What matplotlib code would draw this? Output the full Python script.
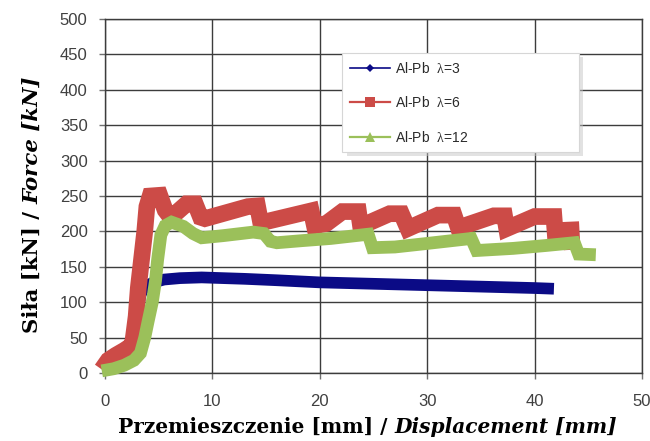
import matplotlib
matplotlib.use("Agg")
import matplotlib.pyplot as plt
from matplotlib.lines import Line2D

# ---- data ----
blue_x = [0, 0.5, 1, 1.5, 2, 2.5, 3, 3.3, 3.6, 4.0, 4.5, 5.5, 7, 9, 11, 13, 16, 20, 25, 30, 35, 40, 41.8]
blue_y = [2, 10, 18, 25, 32, 45, 85, 110, 120, 124, 128, 132, 134, 135, 134, 133, 131, 128, 126, 124, 122, 120, 119]

red_x = [-0.3, 0.3, 1.0, 1.8, 2.4, 2.6, 2.9, 3.1, 3.4, 3.7, 3.9, 4.2, 5.1, 5.6, 6.0, 6.4, 7.6, 8.4, 8.9, 9.3,
         13.3, 14.2, 14.5, 19.2, 19.5, 20.6, 22.1, 23.6, 23.8, 26.5, 27.6, 28.2, 31.0, 32.5, 32.9,
         36.2, 37.2, 37.4, 40.0, 41.8, 41.9, 43.4, 43.5]
red_y = [5, 18, 25, 32, 38, 45, 80, 120, 160, 200, 235, 250, 251, 230, 222, 223, 239, 239, 220, 218,
         235, 236, 212, 229, 208, 211, 228, 228, 207, 225, 225, 204, 223, 223, 205,
         222, 222, 204, 221, 221, 201, 202, 174]

green_x = [-0.3, 0.8, 1.8, 2.7, 3.3, 3.7, 4.0, 4.4, 4.7, 4.9, 5.2, 5.6, 6.2, 7.3, 8.2, 9.0, 11.0, 13.8,
           14.8, 15.4, 16.0, 18.4, 21.0, 24.5, 24.9, 27.0, 30.0, 34.1, 34.6, 38.0, 41.0, 43.7, 44.1, 45.7]
green_y = [3, 6, 11, 18, 28, 50, 72, 100, 130, 160, 195, 208, 213, 207, 197, 191, 194, 199,
           197, 186, 184, 187, 190, 196, 177, 178, 183, 190, 173, 176, 180, 184, 168, 167]

labels = ["Al-Pb  $\\mathrm{\\lambda}$=3", "Al-Pb  $\\mathrm{\\lambda}$=6", "Al-Pb  $\\mathrm{\\lambda}$=12"]
x_ticks = [0, 10, 20, 30, 40, 50]
y_ticks = [0, 50, 100, 150, 200, 250, 300, 350, 400, 450, 500]
xlabel_parts = ["Przemieszczenie [mm] /", "Displacement [mm]"]
ylabel_parts = ["Siła [kN] /", "Force [kN]"]

# ---- style ----
plt.rcParams['mathtext.fontset'] = 'custom'
plt.rcParams['mathtext.rm'] = 'Liberation Serif'
plt.rcParams['mathtext.it'] = 'Liberation Serif:italic'
plt.rcParams['font.family'] = ['Liberation Sans', 'DejaVu Sans']

c_blue = '#0b0b86'
c_red = '#cc4b47'
c_green = '#9bc05a'

fig = plt.figure(figsize=(6.5, 4.41), dpi=100)
ax = fig.add_axes([105 / 650, 68 / 441, 537 / 650, 354 / 441])

common = dict(solid_joinstyle='miter', solid_capstyle='butt', clip_on=False)
ax.plot(blue_x, blue_y, color=c_blue, lw=8.4, zorder=3, **common)
ax.plot(red_x, red_y, color=c_red, lw=12.0, zorder=4, **common)
ax.plot(green_x, green_y, color=c_green, lw=9.2, zorder=5, **common)

ax.set_xlim(0, 50)
ax.set_ylim(0, 500)
ax.set_xticks(x_ticks)
ax.set_yticks(y_ticks)
ax.grid(True, color='#3c3c3c', lw=1.0)
ax.set_axisbelow(True)
for s in ax.spines.values():
    s.set_color('#3c3c3c')
    s.set_linewidth(1.0)
ax.tick_params(axis='both', direction='out', length=4, width=1, color='#707070',
               labelsize=12, labelcolor='#404040')
ax.tick_params(axis='y', pad=8.5)
ax.tick_params(axis='x', pad=11)

handles = [
    Line2D([], [], color=c_blue, lw=1.2, marker='D', ms=4.2, markeredgewidth=0),
    Line2D([], [], color=c_red, lw=1.6, marker='s', ms=6.5, markeredgewidth=0),
    Line2D([], [], color=c_green, lw=1.6, marker='^', ms=6.5, markeredgewidth=0),
]
leg = ax.legend(handles, labels, loc='upper left', mode='expand',
                bbox_to_anchor=(0.442, 0.45, 0.4405, 0.454), borderaxespad=0,
                fontsize=10, labelspacing=1.4, borderpad=0.55, handlelength=2.9,
                handletextpad=0.35, fancybox=False, framealpha=1, edgecolor='#d6d6d6',
                shadow={'ox': 3, 'oy': -3, 'facecolor': '#c6c6c6', 'edgecolor': 'none'},
                labelcolor='#2a2a2a')
leg.get_frame().set_linewidth(0.8)
leg.set_zorder(10)

# ---- axis titles with mixed bold / bold-italic parts ----
fig.canvas.draw()
renderer = fig.canvas.get_renderer()
fsx = 14.5
fsy = 15.3
serif = ['DejaVu Serif']

t1 = fig.text(0, 0, xlabel_parts[0], fontsize=fsx, fontweight='bold', family=serif, va='baseline')
t2 = fig.text(0, 0, xlabel_parts[1], fontsize=fsx, fontweight='bold', style='italic', family=serif, va='baseline')
w1 = t1.get_window_extent(renderer).width
w2 = t2.get_window_extent(renderer).width
gap = fsx * 100 / 72 * 0.32
total = w1 + gap + w2
x0 = 367.5 - total / 2
yb = (441 - 433) / 441
t1.set_position((x0 / 650, yb))
t2.set_position(((x0 + w1 + gap) / 650, yb))

u1 = fig.text(0, 0, ylabel_parts[0], fontsize=fsy, fontweight='bold', family=serif,
              rotation=90, rotation_mode='anchor', ha='left', va='center')
u2 = fig.text(0, 0, ylabel_parts[1], fontsize=fsy, fontweight='bold', style='italic', family=serif,
              rotation=90, rotation_mode='anchor', ha='left', va='center')
h1 = u1.get_window_extent(renderer).height
h2 = u2.get_window_extent(renderer).height
gapy = fsy * 100 / 72 * 0.32
ytot = h1 + gapy + h2
ycen = 441 - 205
y0 = ycen - ytot / 2
xc = 32 / 650
u1.set_position((xc, y0 / 441))
u2.set_position((xc, (y0 + h1 + gapy) / 441))

fig.savefig('out.png', dpi=100)
